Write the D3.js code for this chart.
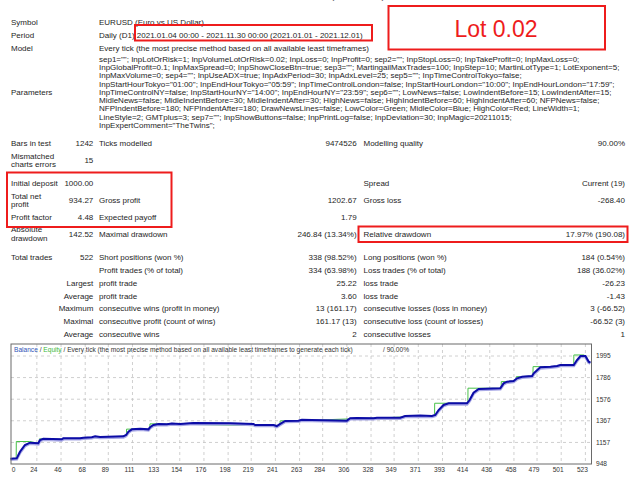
<!DOCTYPE html>
<html>
<head>
<meta http-equiv='Content-Type' content='text/html;charset=utf-8'/>
<title>Strategy Tester Report</title>
<script src='https://d3js.org/d3.v7.min.js'></script>
<style>
body { margin: 0; background: #ffffff; }
svg { display: block; font-family: 'Liberation Sans', Arial, sans-serif; }
.rep { font-size: 8px; fill: #1e1e1e; }
.axis { font-size: 6.6px; fill: #333333; }
.grid { stroke: #c4c4c4; stroke-width: 0.8; stroke-dasharray: 3,3; }
.mark { fill: none; stroke: #ee1c1c; stroke-width: 2; }
</style>
</head>
<body>
<script>
'use strict'

// header of the report
const headerLabels = ['Symbol', 'Period', 'Model']
const headerValues = [
	'EURUSD (Euro vs US Dollar)',
	'Daily (D1) 2021.01.04 00:00 - 2021.11.30 00:00 (2021.01.01 - 2021.12.01)',
	'Every tick (the most precise method based on all available least timeframes)'
]
const paramLines = [
	'sep1=""; InpLotOrRisk=1; InpVolumeLotOrRisk=0.02; InpLoss=0; InpProfit=0; sep2=""; InpStopLoss=0; InpTakeProfit=0; InpMaxLoss=0;',
	'InpGlobalProfit=0.1; InpMaxSpread=0; InpShowCloseBtn=true; sep3=""; MartingailMaxTrades=100; InpStep=10; MartinLotType=1; LotExponent=5;',
	'InpMaxVolume=0; sep4=""; InpUseADX=true; InpAdxPeriod=30; InpAdxLevel=25; sep5=""; InpTimeControlTokyo=false;',
	'InpStartHourTokyo="01:00"; InpEndHourTokyo="05:59"; InpTimeControlLondon=false; InpStartHourLondon="10:00"; InpEndHourLondon="17:59";',
	'InpTimeControlNY=false; InpStartHourNY="14:00"; InpEndHourNY="23:59"; sep6=""; LowNews=false; LowIndentBefore=15; LowIndentAfter=15;',
	'MidleNews=false; MidleIndentBefore=30; MidleIndentAfter=30; HighNews=false; HighIndentBefore=60; HighIndentAfter=60; NFPNews=false;',
	'NFPIndentBefore=180; NFPIndentAfter=180; DrawNewsLines=false; LowColor=Green; MidleColor=Blue; HighColor=Red; LineWidth=1;',
	'LineStyle=2; GMTplus=3; sep7=""; InpShowButtons=false; InpPrintLog=false; InpDeviation=30; InpMagic=20211015;',
	'InpExpertComment="TheTwins";'
]

// result table: [label, value, label2, value2, label3, value3]
const statsTop = [
	['Bars in test', '1242', 'Ticks modelled', '9474526', 'Modelling quality', '90.00%'],
	['Mismatched|charts errors', '15', '', '', '', ''],
	['Initial deposit', '1000.00', '', '', 'Spread', 'Current (19)'],
	['Total net|profit', '934.27', 'Gross profit', '1202.67', 'Gross loss', '-268.40'],
	['Profit factor', '4.48', 'Expected payoff', '1.79', '', ''],
	['Absolute|drawdown', '142.52', 'Maximal drawdown', '246.84 (13.34%)', 'Relative drawdown', '17.97% (190.08)']
]
const statsTrades = [
	['Total trades', '522', 'Short positions (won %)', '338 (98.52%)', 'Long positions (won %)', '184 (0.54%)'],
	['', '', 'Profit trades (% of total)', '334 (63.98%)', 'Loss trades (% of total)', '188 (36.02%)'],
	['Largest', '', 'profit trade', '25.22', 'loss trade', '-26.23'],
	['Average', '', 'profit trade', '3.60', 'loss trade', '-1.43'],
	['Maximum', '', 'consecutive wins (profit in money)', '13 (161.17)', 'consecutive losses (loss in money)', '3 (-66.52)'],
	['Maximal', '', 'consecutive profit (count of wins)', '161.17 (13)', 'consecutive loss (count of losses)', '-66.52 (3)'],
	['Average', '', 'consecutive wins', '2', 'consecutive losses', '1']
]

// chart: [trade number, money]
const balancePoints = [
	[0, 1000], [5.7, 1003], [8.7, 1067], [13.2, 1132], [17.8, 1155], [25.3, 1149], [26.9, 1181],
	[29.9, 1193], [46.6, 1187], [48.1, 1197], [63.3, 1197], [66.3, 1203], [74, 1207], [77, 1216],
	[81.5, 1210], [102.7, 1216], [105.2, 1229], [107.3, 1261], [110.4, 1284], [118, 1290],
	[125.5, 1284], [127, 1304], [130, 1326], [134.6, 1336], [142.2, 1333], [146.8, 1340],
	[154.3, 1336], [166.4, 1346], [199.8, 1343], [221, 1336], [222.6, 1326], [239.3, 1326],
	[242.3, 1316], [245.4, 1336], [249.9, 1365], [262, 1368], [265.1, 1377], [274, 1374],
	[306, 1368], [309, 1391], [315, 1394], [330.3, 1391], [333.4, 1397], [354.6, 1397],
	[359, 1413], [372.8, 1417], [383.4, 1413], [386.5, 1423], [389.5, 1471], [394, 1520],
	[398.6, 1536], [415.3, 1536], [417.7, 1568], [421.3, 1639], [425.9, 1675], [445.6, 1682],
	[448.6, 1730], [451.7, 1746], [457.7, 1752], [460.8, 1779], [465.4, 1794], [474.5, 1801],
	[476, 1827], [482, 1885], [491.2, 1891], [497.2, 1898], [500.3, 1908], [512.4, 1908],
	[515.4, 1956], [518.5, 1995], [523, 1995], [526, 1940], [527.5, 1930]
]
const equityPoints = [
	[0, 1000], [5.2, 1003], [5.3, 1166], [17.5, 1166], [25.3, 1149], [26.2, 1149], [26.3, 1192],
	[46.6, 1187], [105.5, 1216], [105.6, 1286], [110.4, 1286], [125.5, 1284], [126.8, 1300],
	[126.9, 1337], [134.6, 1337], [242.3, 1316], [245.2, 1318], [245.3, 1366], [262, 1368],
	[383.4, 1413], [385.8, 1417], [385.9, 1537], [398.6, 1537], [415.3, 1536], [416.1, 1536],
	[416.2, 1683], [445.6, 1682], [446.4, 1684], [446.5, 1747], [451.7, 1747], [457.7, 1752],
	[460.1, 1754], [460.2, 1795], [465.4, 1795], [474.5, 1801], [475.3, 1803], [475.4, 1892],
	[491.2, 1891], [512.4, 1908], [512.5, 2005], [521.5, 2005], [524, 1990], [525, 1930], [527.5, 1930]
]
const xTickLabels = [0, 24, 46, 68, 89, 111, 133, 154, 176, 198, 219, 241, 263, 284, 306, 328, 349, 371, 393, 414, 436, 458, 479, 501, 523]
const yTickLabels = [948, 1157, 1367, 1576, 1786, 1995]
const legendParts = [['Balance', '#2f55b8'], [' / ', '#333333'], ['Equity', '#3dba3d'],
	[' / Every tick (the most precise method based on all available least timeframes to generate each tick)', '#333333']]

const svg = d3.select('body').append('svg')
	.attr('width', 640)
	.attr('height', 480)

svg.append('rect')
	.attr('width', 640)
	.attr('height', 480)
	.attr('fill', '#ffffff')

// cut title at the very top
svg.append('text')
	.attr('x', 358).attr('y', -1.5)
	.attr('text-anchor', 'middle')
	.style('font-size', '10px').attr('fill', '#444')
	.text('(Build 1353)')

/**
 * header rows and parameter block
 */
const headerY = [22, 34.7, 47.5]
headerLabels.forEach(function(d, i) {
	svg.append('text').attr('class', 'rep').attr('x', 11).attr('y', headerY[i] + 3).text(d)
	svg.append('text').attr('class', 'rep').attr('x', 99).attr('y', headerY[i] + 3).text(headerValues[i])
})

const paramY = d3.scaleLinear().domain([0, paramLines.length - 1]).range([58.6, 125])
svg.append('text').attr('class', 'rep').attr('x', 11).attr('y', 92 + 3).text('Parameters')
svg.selectAll('.param')
	.data(paramLines)
	.join('text')
	.attr('class', 'rep param')
	.attr('x', 99)
	.attr('y', function(d, i) { return paramY(i) + 3 })
	.text(function(d) { return d })

/**
 * statRow
 * Draw one row of the result table; '|' splits a label in two lines.
 */
function statRow(row, yc)
{
	const colX = [11, 93.3, 99, 356.6, 363.5, 625]
	row.forEach(function(t, c) {
		if (t === '') return
		const right = (c % 2 === 1) || (c === 0 && row[1] === '' && row[2] !== '' && t.indexOf('|') < 0 && t !== 'Total trades')
		const lines = t.split('|')
		lines.forEach(function(l, k) {
			svg.append('text').attr('class', 'rep')
				.attr('x', right && c === 0 ? 93.3 : colX[c])
				.attr('y', yc + 3 + (k - (lines.length - 1) / 2) * 8.3)
				.attr('text-anchor', right ? 'end' : 'start')
				.text(l)
		})
	})
}

const topY = [143.3, 160, 182.7, 200.2, 217.3, 233.5]
statsTop.forEach(function(r, i) { statRow(r, topY[i]) })
const tradeY = d3.scaleLinear().domain([0, statsTrades.length - 1]).range([256.7, 334.3])
statsTrades.forEach(function(r, i) { statRow(r, tradeY(i)) })

// red marks
svg.append('rect').attr('class', 'mark').attr('x', 135).attr('y', 25).attr('width', 237).attr('height', 15.5)
svg.append('rect').attr('class', 'mark').attr('x', 388.5).attr('y', 6).attr('width', 216.5).attr('height', 43.5)
svg.append('text').attr('x', 496).attr('y', 37)
	.attr('text-anchor', 'middle')
	.style('font-size', '23px').attr('fill', '#ee1c1c')
	.text('Lot 0.02')
svg.append('rect').attr('class', 'mark').attr('x', 7).attr('y', 172.5).attr('width', 164.5).attr('height', 54.5)
svg.append('rect').attr('class', 'mark').attr('x', 358.5).attr('y', 226.5).attr('width', 269).attr('height', 15.5)

/**
 * balance / equity chart
 */
const frame = {left: 11, right: 591.5, top: 344, bottom: 464}
const x = d3.scaleLinear().domain([2.3, 523]).range([13, 585.4])
const y = d3.scaleLinear().domain([948, 1995]).range([464, 356])

svg.selectAll('.vgrid')
	.data(xTickLabels.slice(1))
	.join('line')
	.attr('class', 'grid vgrid')
	.attr('x1', function(d) { return x(d) }).attr('x2', function(d) { return x(d) })
	.attr('y1', frame.top).attr('y2', frame.bottom)

svg.selectAll('.hgrid')
	.data(yTickLabels.slice(1))
	.join('line')
	.attr('class', 'grid hgrid')
	.attr('x1', frame.left).attr('x2', frame.right)
	.attr('y1', function(d) { return y(d) }).attr('y2', function(d) { return y(d) })

svg.selectAll('.xlab')
	.data(xTickLabels)
	.join('text')
	.attr('class', 'axis xlab')
	.attr('x', function(d) { return Math.max(x(d) - 3, 13.5) })
	.attr('y', 472)
	.attr('text-anchor', 'middle')
	.text(function(d) { return d })

svg.selectAll('.ylab')
	.data(yTickLabels)
	.join('text')
	.attr('class', 'axis ylab')
	.attr('x', 596)
	.attr('y', function(d) { return y(d) + 2.4 })
	.text(function(d) { return d })

const line = d3.line()
	.x(function(d) { return x(d[0]) })
	.y(function(d) { return y(d[1]) })

svg.append('path')
	.attr('d', line(equityPoints))
	.attr('fill', 'none')
	.attr('stroke', '#49c249')
	.attr('stroke-width', 1)

svg.append('path')
	.attr('d', line(balancePoints))
	.attr('fill', 'none')
	.attr('stroke', '#a9a9e6')
	.attr('stroke-width', 3)
	.attr('transform', 'translate(0,0.8)')

svg.append('path')
	.attr('d', line(balancePoints))
	.attr('fill', 'none')
	.attr('stroke', '#0c0ca6')
	.attr('stroke-width', 2)

svg.append('rect')
	.attr('x', frame.left).attr('y', frame.top)
	.attr('width', frame.right - frame.left).attr('height', frame.bottom - frame.top)
	.attr('fill', 'none').attr('stroke', '#6a6a6a').attr('stroke-width', 1)

const legend = svg.append('text').attr('class', 'axis').attr('x', 14).attr('y', 351.5)
legendParts.forEach(function(p) {
	legend.append('tspan').attr('fill', p[1]).text(p[0])
})
svg.append('text').attr('class', 'axis').attr('x', 383).attr('y', 351.5).text('/ 90.00%')
</script>
</body>
</html>
